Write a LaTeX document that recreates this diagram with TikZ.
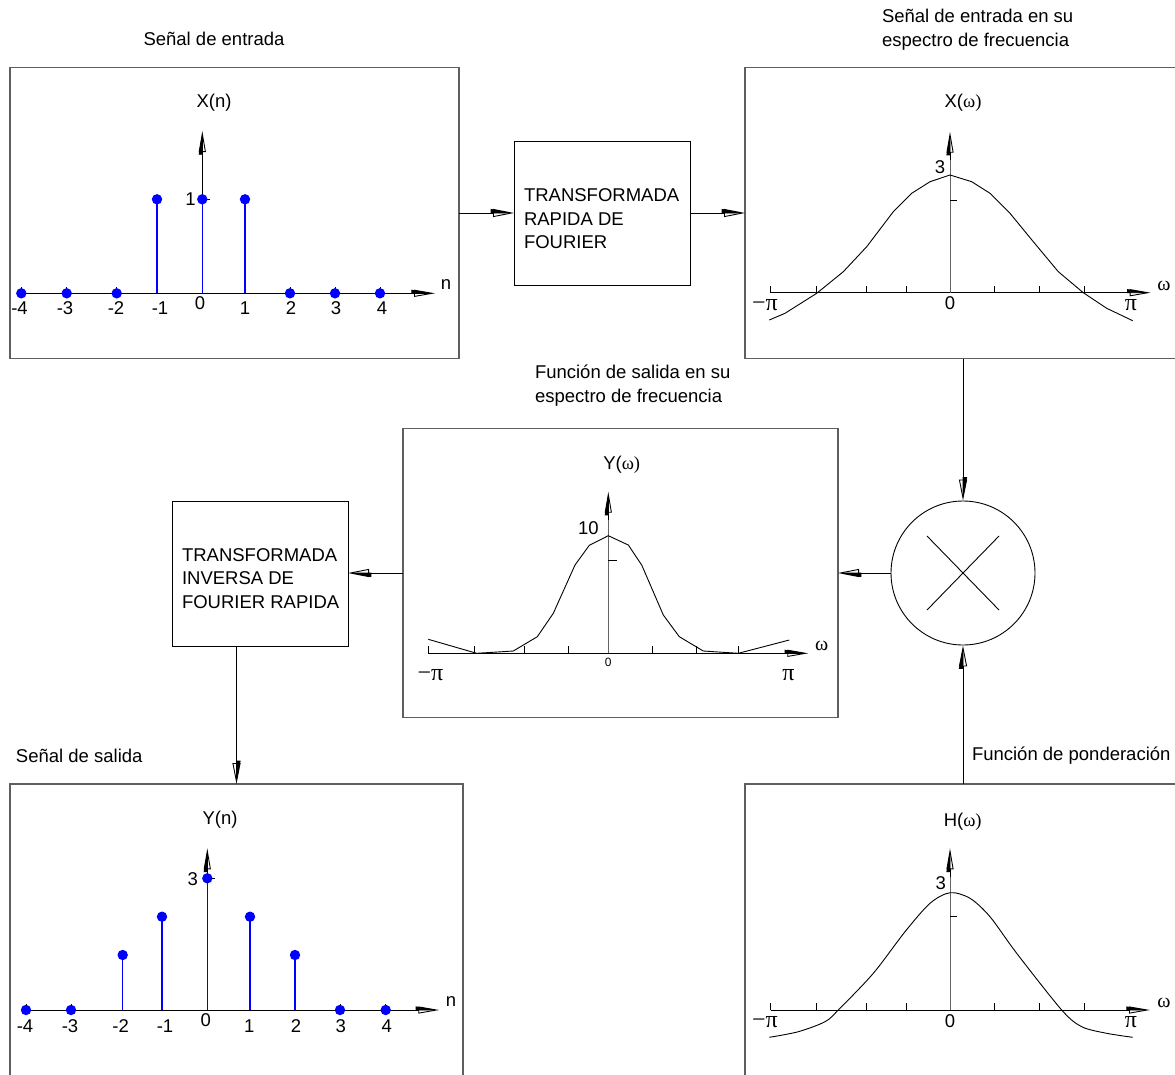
\documentclass[tikz,border=0pt]{standalone}
\usepackage{fontspec}
\setmainfont{Liberation Sans}
\newfontfamily\symfont{Liberation Serif}
\usetikzlibrary{arrows.meta,calc}
\definecolor{stemblue}{RGB}{0,0,255}
\definecolor{framegray}{RGB}{95,95,95}
\definecolor{axgray}{RGB}{100,100,100}
\begin{document}
\begin{tikzpicture}[x=1pt,y=-1pt,
  font=\fontsize{18.5}{23.5}\selectfont,
  panel/.style={draw=framegray, line width=1.2pt, rectangle, inner sep=0pt, outer sep=0pt},
  block/.style={draw=black, line width=0.9pt, rectangle, inner sep=0pt, outer sep=0pt, minimum width=176pt, minimum height=144pt},
  lbl/.style={inner sep=0pt, outer sep=0pt},
  small/.style={lbl, font=\fontsize{12}{14}\selectfont},
  omg/.style={lbl, font=\symfont\fontsize{20}{22}\selectfont},
  pilbl/.style={lbl, font=\symfont\fontsize{24}{26}\selectfont},
  conn/.style={draw, line width=0.9pt, -{Triangle[length=21pt,width=8pt,open]},
    postaction={draw, -{Triangle[length=21pt,width=8pt,left]}}},
  axis/.style={draw, line width=0.9pt, -{Triangle[length=21pt,width=7pt,open]},
    postaction={draw, -{Triangle[length=21pt,width=7pt,left]}}},
  gline/.style={draw=axgray, line width=0.9pt},
  curve/.style={draw, line width=0.9pt},
  stem/.style={draw=stemblue, line width=1.3pt},
  dot/.style={fill=stemblue},
  tick/.style={draw, line width=0.8pt}
]
\useasboundingbox (0,0) rectangle (1175,1074);
\clip (0,0) rectangle (1175,1074);

% ---------- panels and blocks ----------
\node[panel, minimum width=449pt, minimum height=291pt] (pxn) at (234.5,213) {};
\node[panel, minimum width=440pt, minimum height=291pt] (pxw) at (965,213) {};
\node[panel, minimum width=435pt, minimum height=289pt] (pyw) at (620.5,573) {};
\node[panel, minimum width=453pt, minimum height=300pt] (pyn) at (236.5,934) {};
\node[panel, minimum width=440pt, minimum height=300pt] (phw) at (965,934) {};

\node[block] (fft) at (602,213) {};
\node[block, minimum height=145pt] (ifft) at (260,573.5) {};
\node[lbl, anchor=west, align=left] (fftt) at (524,219) {TRANSFORMADA\\RAPIDA DE\\FOURIER};
\node[lbl, anchor=west, align=left] (ifftt) at (182,578.5) {TRANSFORMADA\\INVERSA DE\\FOURIER RAPIDA};

\node[circle, draw, line width=0.9pt, minimum size=144pt, inner sep=0pt] (mult) at (963,573) {};
\draw[line width=0.9pt] (mult.center) +(-36,-37) -- +(36,37);
\draw[line width=0.9pt] (mult.center) +(-36,37) -- +(36,-37);

% ---------- titles ----------
\node[lbl] (t1) at (214,39) {Señal de entrada};
\node[lbl, anchor=west, align=left] (t2) at (882,29.5) {Señal de entrada en su\\espectro de frecuencia};
\node[lbl, anchor=west, align=left] (t3) at (535,385.5) {Función de salida en su\\espectro de frecuencia};
\node[lbl, anchor=west] (t4) at (16,756) {Señal de salida};
\node[lbl, anchor=west] (t5) at (972,756) {Función de ponderación};

% ---------- connectors ----------
\draw[conn] (pxn.east) -- (fft.west);
\draw[conn] (fft.east) -- (pxw.west);
\draw[conn] (mult.north |- pxw.south) -- (mult.north);
\draw[conn] (mult.south |- phw.north) -- (mult.south);
\draw[conn] (mult.west) -- (mult.west -| pyw.east);
\draw[conn] (pyw.west) -- (pyw.west -| ifft.east);
\draw[conn] (ifft.south -| pyn.north) -- (pyn.north);

% ---------- panel X(n) ----------
\draw[axis] (21,293.3) -- (435,293.3);
\draw[axis] (202.3,199.3) -- (202.3,131);
\draw[tick] (202.3,199.3) -- (210,199.3);
\foreach \x/\y in {21.3/293.3,66.7/293.3,116.7/293.3,157/199.3,202.3/199.3,245/199.3,290/293.3,335/293.3,380/293.3}{
  \draw[tick] (\x,293.3) -- (\x,287);
  \draw[stem] (\x,293.3) -- (\x,\y);
  \fill[dot] (\x,\y) circle (5.2);
}
\node[lbl] (xn) at (214,103) {X(n)};
\node[lbl] (xnn) at (446,285) {n};
\node[lbl] (xn1) at (190.5,199.5) {1};
\foreach \x/\t [count=\i] in {19.5/-4,65/-3,116/-2,160/-1,245/1,291/2,336/3,382/4}{
  \node[lbl] (xnl\i) at (\x,308.5) {\t};
}
\node[lbl] (xn0) at (200,303) {0};

% ---------- panel X(omega) ----------
\draw[axis] (770.7,292.7) -- (1150.7,292.7);
\draw[gline] (950,292.7) -- (950,155);
\draw[axis] (950,160) -- (950,131.7);
\draw[tick] (950,200) -- (957,200);
\foreach \x in {770.7,816,866,906,994,1039,1084.3}{
  \draw[tick] (\x,292.7) -- (\x,285.7);
}
\draw[curve] (769.3,320) -- (785,313.3) -- (816.7,293.3) -- (843.3,271.7) -- (866.7,246.7)
  -- (893.3,211.7) -- (911.7,193.3) -- (930,181.7) -- (950,175) -- (971.7,181.7)
  -- (990,193.3) -- (1010,213.3) -- (1033.3,241.7) -- (1058.3,271.7) -- (1083.3,292.7)
  -- (1106.7,308.3) -- (1132.7,320.7);
\node[lbl] (xw) at (963,103) {X(\symfont ω)};
\node[lbl] (xw3) at (940,166.7) {3};
\node[omg] (xwo) at (1164,286) {ω};
\node[pilbl] (xwmp) at (765,305) {−π};
\node[lbl] (xw0) at (950,303) {0};
\node[pilbl] (xwp) at (1131,305) {π};

% ---------- panel Y(omega) ----------
\draw[axis] (428.3,653.3) -- (808.3,653.3);
\draw[gline] (608.3,653.3) -- (608.3,515);
\draw[axis] (608.3,520) -- (608.3,491.7);
\draw[tick] (608.3,560) -- (617,560);
\foreach \x in {428.3,474,524,568.3,652.3,696.7,738.3}{
  \draw[tick] (\x,653.3) -- (\x,646.3);
}
\draw[curve] (428.3,639.3) -- (476.7,653.3) -- (513.3,651) -- (537.3,636.7) -- (553.3,613.3)
  -- (575,565) -- (589.3,545.3) -- (608.3,535.7) -- (628.3,545) -- (641.7,565)
  -- (663.3,615) -- (679.3,636.7) -- (703.3,651) -- (738.3,653.3) -- (789.3,640);
\node[lbl] (yw) at (621.7,465) {Y(\symfont ω)};
\node[lbl] (yw10) at (588.3,528.3) {10};
\node[omg] (ywo) at (821.7,646) {ω};
\node[pilbl] (ywmp) at (430.5,675.5) {−π};
\node[small] (yw0) at (608.3,662) {0};
\node[pilbl] (ywp) at (788.3,675.5) {π};

% ---------- panel Y(n) ----------
\draw[axis] (26,1010) -- (439.3,1010);
\draw[axis] (207.3,878.3) -- (207.3,848.3);
\draw[tick] (207.3,878.3) -- (215,878.3);
\foreach \x/\y in {26/1010,71/1010,122.7/955,162/916.7,207.3/878.3,250/916.7,295/955,340/1010,385.7/1010}{
  \draw[tick] (\x,1010) -- (\x,1003.5);
  \draw[stem] (\x,1010) -- (\x,\y);
  \fill[dot] (\x,\y) circle (5.2);
}
\node[lbl] (yn) at (220,820) {Y(n)};
\node[lbl] (ynn) at (451,1001.7) {n};
\node[lbl] (yn3) at (192.7,879) {3};
\foreach \x/\t [count=\i] in {25/-4,70/-3,120.7/-2,165/-1,249.3/1,296/2,340.7/3,386.7/4}{
  \node[lbl] (ynl\i) at (\x,1026) {\t};
}
\node[lbl] (yn0) at (205.7,1020) {0};

% ---------- panel H(omega) ----------
\draw[axis] (770.7,1010) -- (1150,1010);
\draw[gline] (950,1010) -- (950,872);
\draw[axis] (950,877) -- (950,848.3);
\draw[tick] (950,916.7) -- (957,916.7);
\foreach \x in {770.7,816,866,906,994.3,1039,1084.3}{
  \draw[tick] (\x,1010) -- (\x,1003);
}
\draw[curve] plot[smooth, tension=0.5] coordinates {(769.3,1037.3) (798.3,1031.7) (825,1021.7)
  (838.3,1010) (873.3,973.3) (905,931.7) (930,903.3) (950,892.7) (970,898.3) (990,916.7)
  (1016.7,953.3) (1061.7,1010) (1081.7,1026.7) (1106.7,1033.3) (1132.7,1037.3)};
\node[lbl] (hw) at (962.7,821.7) {H(\symfont ω)};
\node[lbl] (hw3) at (940.7,883.3) {3};
\node[omg] (hwo) at (1164,1003) {ω};
\node[pilbl] (hwmp) at (765,1022.5) {−π};
\node[lbl] (hw0) at (950,1020.7) {0};
\node[pilbl] (hwp) at (1131,1022.5) {π};
\end{tikzpicture}
\end{document}
